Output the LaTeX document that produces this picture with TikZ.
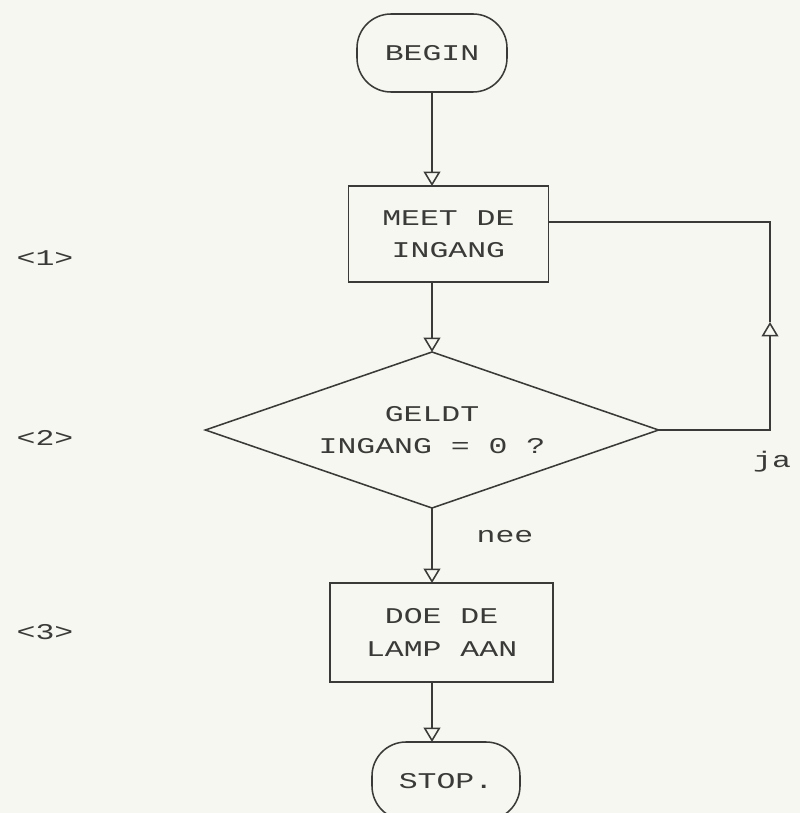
\documentclass[tikz,border=0pt]{standalone}
\usepackage{fontspec}
\setmainfont{Liberation Mono}[FakeStretch=1.4]
\usetikzlibrary{shapes.geometric, arrows.meta, positioning}
\definecolor{plotink}{RGB}{58,58,56}
\definecolor{paper}{RGB}{247,247,241}

\begin{document}
\begin{tikzpicture}[
      node distance=2cm,
      font=\fontsize{16}{23}\selectfont,
      term/.style={draw=plotink, line width=1.1pt, rounded corners=0.85cm, minimum width=3.75cm, minimum height=1.95cm, outer sep=0pt, text=plotink},
      box/.style={draw=plotink, line width=1.1pt, minimum width=5cm, minimum height=2.4cm, align=center, outer sep=0pt, text=plotink},
      test/.style={draw=plotink, line width=1.1pt, diamond, aspect=2.9, inner sep=0pt, minimum width=11.33cm, minimum height=3.9cm, align=center, outer sep=0pt, text=plotink},
      lbl/.style={text=plotink},
      arr/.style={-{Triangle[open, width=0.42cm, length=0.36cm]}, draw=plotink, line width=1.1pt},
      line/.style={draw=plotink, line width=1.1pt},
    ]
    \fill[paper] (0,0) rectangle (20,-20.325);
    \useasboundingbox (0,0) rectangle (20,-20.325);

    \node[term] (begin) at (10.8,-1.325) {BEGIN};
    \node[box, below=2.35cm of begin, xshift=0.41cm] (meet) {MEET DE\\INGANG};
    \node[test, below=1.75cm of meet, xshift=-0.41cm] (geldt) {GELDT\\INGANG = 0 ?};
    \node[box, below=1.875cm of geldt, xshift=0.24cm, minimum width=5.575cm, minimum height=2.475cm] (lamp) {DOE DE\\LAMP AAN};
    \node[term, below=1.5cm of lamp, xshift=0.11cm, minimum width=3.7cm] (stop) {STOP.};

    \node[lbl] (stapa) at (1.125,-6.45) {<1>};
    \node[lbl] (stapb) at (1.125,-10.95) {<2>};
    \node[lbl] (stapc) at (1.125,-15.8) {<3>};

    \draw[arr] (begin) -- (begin |- meet.north);
    \draw[arr] (meet.south -| begin) -- (geldt);
    \draw[arr] (geldt) -- (geldt.south |- lamp.north);
    \draw[arr] (lamp.south -| geldt) -- (stop.north -| geldt);
    \node[lbl] (nee) at (12.625,-13.425) {nee};

    % terug naar meten
    \coordinate (jatip) at (19.25,-8.05);
    \coordinate (jatop) at (19.25,-5.55);
    \draw[arr] (geldt.east) -| (jatip);
    \draw[line] (jatip) -- (jatop) -- (meet.east |- jatop);
    \node[lbl] (ja) at (19.3,-11.55) {ja};
  \end{tikzpicture}
\end{document}
